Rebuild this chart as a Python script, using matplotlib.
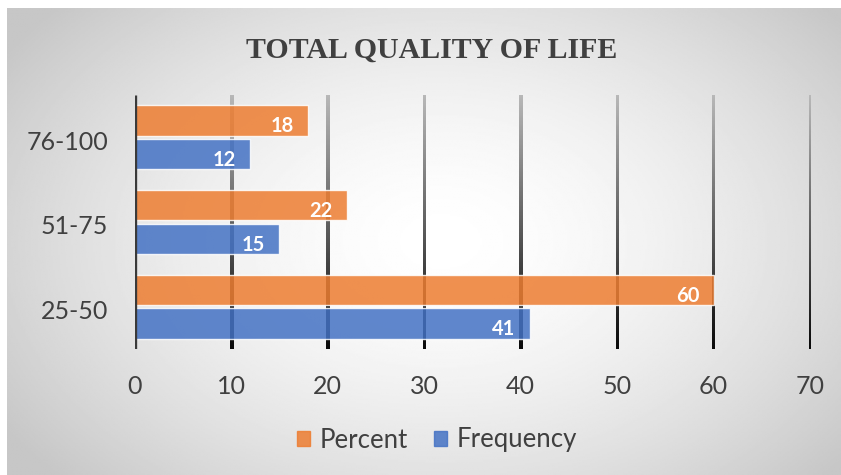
import numpy as np
import matplotlib
matplotlib.use("Agg")
import matplotlib.pyplot as plt
from matplotlib.patches import Patch
from matplotlib.transforms import ScaledTranslation

# Datos del grafico
categorias = ['25-50', '51-75', '76-100']
percent = [60, 22, 18]
frequency = [41, 15, 12]
ticks_x = [0, 10, 20, 30, 40, 50, 60, 70]

naranja = '#ED7D31'
azul = '#4472C4'
texto = '#404040'

plt.rcParams['font.family'] = ['Lato', 'DejaVu Sans']

W, H = 841, 475
fig = plt.figure(figsize=(W / 100, H / 100), dpi=100)
fig.patch.set_facecolor('white')

# Fondo con degradado radial
bg = fig.add_axes([7 / W, 0, 1 - 7 / W, 1 - 8 / H], zorder=0)
yy, xx = np.mgrid[0:1:300j, 0:1:500j]
d = np.sqrt(((xx - 0.52) / 0.62) ** 2 + ((yy - 0.5) / 0.75) ** 2)
d = np.clip(d, 0, 1)
gris = 1 - 0.22 * d ** 1.6
bg.imshow(gris, cmap='gray', vmin=0, vmax=1, aspect='auto', extent=[0, 1, 0, 1])
bg.axis('off')

# Area del grafico
x0, x1 = 134.5, 810
y_top, y_bot = 95, 349
ax = fig.add_axes([x0 / W, 1 - y_bot / H, (x1 - x0) / W, (y_bot - y_top) / H], zorder=1)
ax.set_facecolor('none')

# Lineas de cuadricula con degradado (claro arriba, oscuro abajo)
grad = np.linspace(0.72, 0.04, 200).reshape(-1, 1)
ancho = 3 / ((x1 - x0) / 70)
for t in ticks_x[1:]:
    ax.imshow(grad, cmap='gray', vmin=0, vmax=1, aspect='auto', zorder=1,
              extent=[t - ancho / 2, t + ancho / 2, -0.5, 2.5])
ax.plot([0, 0], [-0.5, 2.5], color='#3a3a3a', lw=2.4, zorder=3, solid_capstyle='butt')

# Barras
pos = np.arange(len(categorias))
h = 0.36
g = 0.018
b1 = ax.barh(pos + h / 2 + g, percent, height=h, color=naranja, alpha=0.85,
             edgecolor='white', linewidth=1, zorder=2, label='Percent')
b2 = ax.barh(pos - h / 2 - g, frequency, height=h, color=azul, alpha=0.85,
             edgecolor='white', linewidth=1, zorder=2, label='Frequency')

for barras in (b1, b2):
    for b in barras:
        w = b.get_width()
        ax.text(w - 1.5, b.get_y() + b.get_height() / 2 - 0.07, str(int(w)), ha='right', va='center',
                color='white', fontsize=14.5, fontweight='bold', zorder=4)

ax.set_xlim(0, 70)
ax.set_ylim(-0.5, 2.5)

# Ejes
ax.set_xticks(ticks_x)
ax.set_yticks(pos)
ax.set_yticklabels(categorias)
ax.tick_params(axis='x', length=0, pad=19, labelsize=18, labelcolor=texto)
ax.tick_params(axis='y', length=0, pad=19, labelsize=18, labelcolor=texto)
for lab in ax.get_yticklabels():
    lab.set_transform(lab.get_transform() + ScaledTranslation(0, -0.03, fig.dpi_scale_trans))
for s in ax.spines.values():
    s.set_visible(False)

# Titulo
fig.text(432 / W, 1 - 50 / H, 'TOTAL QUALITY OF LIFE', ha='center', va='center',
         fontsize=21.5, fontweight='bold', color=texto, family='Liberation Serif')

# Leyenda
fig.legend(handles=[Patch(color=naranja, alpha=0.85), Patch(color=azul, alpha=0.85)],
           labels=['Percent', 'Frequency'], loc='center', bbox_to_anchor=(437 / W, 1 - 440 / H),
           ncol=2, frameon=False, fontsize=18.5, labelcolor=texto, handlelength=0.5,
           handleheight=0.5, handletextpad=0.4, columnspacing=1.0)

fig.savefig('out.png', dpi=100, facecolor='white')
